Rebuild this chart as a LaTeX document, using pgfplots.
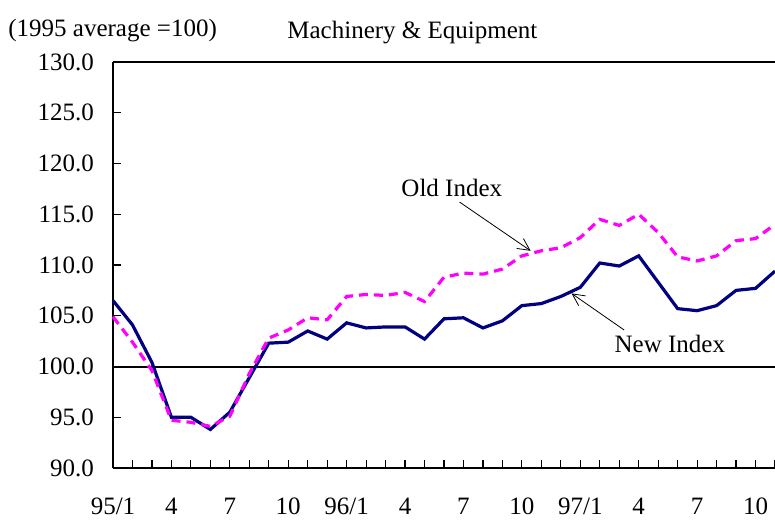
\documentclass[border=0pt]{standalone}
\usepackage{fontspec}
\setmainfont{Liberation Serif}
\usepackage{pgfplots}
\pgfplotsset{compat=1.18}
\usetikzlibrary{arrows.meta}
\definecolor{newidx}{RGB}{0,0,128}
\definecolor{oldidx}{RGB}{255,0,255}

% month index (0 = 95/1) vs index value
\pgfplotstableread{
m new old
0 106.5 104.9
1 104.1 102.4
2 100.4 99.6
3 95.0 94.7
4 95.0 94.5
5 93.8 94.1
6 95.5 95.1
7 98.9 99.3
8 102.3 102.8
9 102.4 103.6
10 103.5 104.8
11 102.7 104.6
12 104.3 106.9
13 103.8 107.1
14 103.9 107.0
15 103.9 107.3
16 102.7 106.4
17 104.7 108.8
18 104.8 109.2
19 103.8 109.1
20 104.5 109.6
21 106.0 110.9
22 106.2 111.4
23 106.9 111.7
24 107.8 112.7
25 110.2 114.5
26 109.9 113.9
27 110.9 115.0
28 108.3 113.2
29 105.7 110.8
30 105.5 110.4
31 106.0 110.9
32 107.5 112.4
33 107.7 112.6
34 109.4 114.0
}\idx

\begin{document}
\begin{tikzpicture}[font=\fontsize{12.5}{15}\selectfont]
\begin{axis}[
    scale only axis, width=331pt, height=203pt,
    xmin=0, xmax=34, ymin=90, ymax=130,
    axis x line*=box, axis y line*=left,
    axis line style={line width=0.8pt},
    tick align=inside, major tick length=4pt,
    tick style={black, line width=0.6pt},
    xtick={0,...,34}, xtick pos=bottom,
    xticklabels={95/1,,,4,,,7,,,10,,,96/1,,,4,,,7,,,10,,,97/1,,,4,,,7,,,10,},
    ytick={90,95,...,130}, ytick pos=left,
    /pgf/number format/fixed, /pgf/number format/fixed zerofill,
    /pgf/number format/precision=1, /pgf/number format/assume math mode=true,
    yticklabel style={xshift=-6pt},
    xticklabel style={yshift=-11.5pt},
    ticklabel style={font=\fontsize{12.5}{15}\selectfont},
    clip=false,
]
\draw[black, line width=1pt] (axis cs:0,100) -- (axis cs:34,100);
\addplot[newidx, line width=1.6pt, no marks] table[x=m, y=new] {\idx};
\addplot[oldidx, line width=1.6pt, dash pattern=on 4.5pt off 3pt, no marks] table[x=m, y=old] {\idx};
\node at (axis cs:17.4,117.6) {Old Index};
\draw[-{Straight Barb[length=6pt,width=6pt]}, line width=0.4pt] (axis cs:17.8,116.2) -- (axis cs:21.45,111.4);
\node at (axis cs:28.6,102.2) {New Index};
\draw[-{Straight Barb[length=6pt,width=6pt]}, line width=0.4pt] (axis cs:26.25,103.6) -- (axis cs:23.55,107.2);
\coordinate (tl) at (rel axis cs:0,1);
\coordinate (bl) at (rel axis cs:0,0);
\end{axis}
\node[anchor=west, inner sep=0pt] at ([shift={(-52.5pt,15.5pt)}]tl) {(1995 average =100)};
\node[anchor=west, inner sep=0pt] at ([shift={(87pt,14.5pt)}]tl) {Machinery \& Equipment};
\pgfresetboundingbox
\path[use as bounding box] ([shift={(-56.5pt,-26pt)}]bl) rectangle ([shift={(331pt,31pt)}]tl);
\end{tikzpicture}
\end{document}
